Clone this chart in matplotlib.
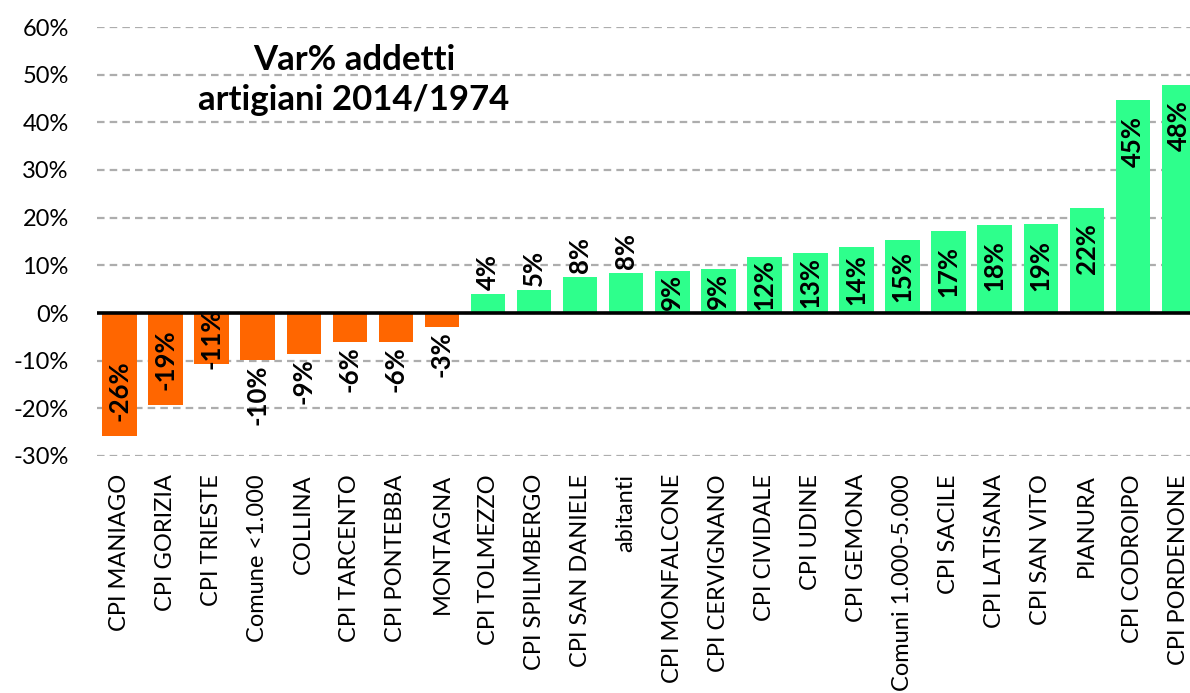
import matplotlib
matplotlib.use("Agg")
import matplotlib.pyplot as plt
from matplotlib.ticker import FuncFormatter, MultipleLocator

# dati: variazione % addetti artigiani 2014/1974
categorie = [
    "CPI MANIAGO", "CPI GORIZIA", "CPI TRIESTE", "Comune <1.000", "COLLINA",
    "CPI TARCENTO", "CPI PONTEBBA", "MONTAGNA", "CPI TOLMEZZO", "CPI SPILIMBERGO",
    "CPI SAN DANIELE", "abitanti", "CPI MONFALCONE", "CPI CERVIGNANO",
    "CPI CIVIDALE", "CPI UDINE", "CPI GEMONA", "Comuni 1.000-5.000",
    "CPI SACILE", "CPI LATISANA", "CPI SAN VITO", "PIANURA", "CPI CODROIPO",
    "CPI PORDENONE",
]
variazioni = [
    -25.8, -19.4, -10.7, -9.9, -8.6, -6.1, -6.1, -2.9, 4.0, 4.8,
    7.6, 8.4, 8.8, 9.3, 11.8, 12.6, 13.9, 15.4, 17.3, 18.4,
    18.6, 22.0, 44.6, 47.8,
]
titolo = "Var% addetti\nartigiani 2014/1974"

ARANCIO = "#FF6600"
VERDE = "#2EFF8C"
FONT = "Lato"

W, H = 1190, 693
fig = plt.figure(figsize=(W / 100, H / 100), dpi=100)
# l'asse prosegue oltre il bordo destro, come nell'originale (ultima barra tagliata)
ax = fig.add_axes([96.5 / W, 1 - 456 / H, (1202 - 96.5) / W, (456 - 27) / H])

x = range(len(variazioni))
colori = [ARANCIO if v < 0 else VERDE for v in variazioni]
ax.bar(x, variazioni, width=0.75, color=colori, zorder=2)
ax.axhline(0, color="black", lw=2.6, zorder=3)

ax.set_xlim(-0.5, len(variazioni) - 0.5)
ax.set_ylim(-30, 60)
ax.yaxis.set_major_locator(MultipleLocator(10))
ax.yaxis.set_major_formatter(FuncFormatter(lambda v, _: f"{v:.0f}%"))
ax.yaxis.grid(True, color="#ADADAD", lw=1.6, linestyle=(0, (3.4, 2.3)), zorder=0)
ax.set_axisbelow(True)
for s in ax.spines.values():
    s.set_visible(False)

ax.set_xticks(list(x))
ax.set_xticklabels(categorie, rotation=90, fontsize=17, family=FONT)
ax.tick_params(axis="x", length=0, pad=13)
ax.tick_params(axis="y", length=0, pad=20, labelsize=17)
for t in ax.get_yticklabels():
    t.set_family(FONT)

# etichette: fuori per barre corte, centrate per medie, "inside end" per lunghe
for i, v in enumerate(variazioni):
    testo = f"{v:.0f}%"
    kw = dict(rotation=90, ha="center", fontsize=18.5, fontweight="bold",
              family=FONT, textcoords="offset points", zorder=4)
    segno = 1 if v >= 0 else -1
    soglia_fuori = 8.7 if v >= 0 else 10.3
    if abs(v) < soglia_fuori:
        ax.annotate(testo, (i, v), xytext=(0, 3 * segno),
                    va="bottom" if v >= 0 else "top", **kw)
    elif abs(v) < 16:
        ax.annotate(testo, (i, v / 2), xytext=(0, 0), va="center", **kw)
    else:
        ax.annotate(testo, (i, v), xytext=(0, -11 * segno),
                    va="top" if v >= 0 else "bottom", **kw)

fig.text(354 / W, 1 - 80 / H, titolo, ha="center", va="center", fontsize=25,
         fontweight="bold", family=FONT, linespacing=1.3)

fig.savefig("out.png", dpi=100)
